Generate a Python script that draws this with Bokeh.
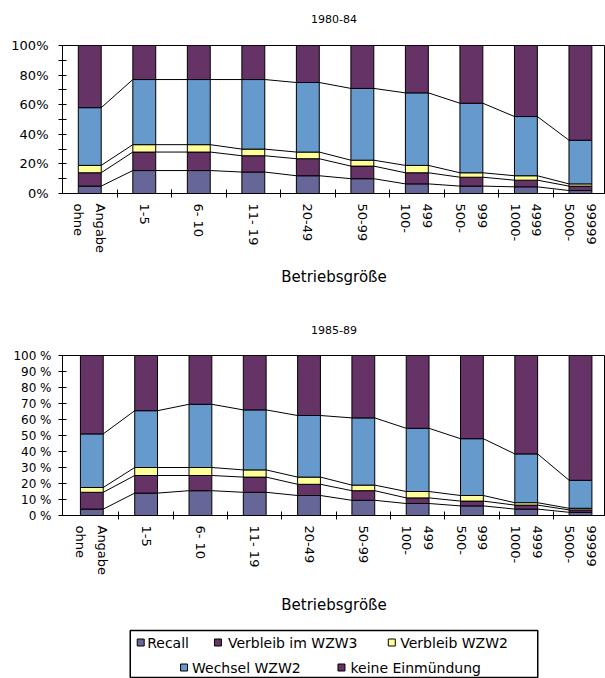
import numpy as np
from bokeh.plotting import figure
from bokeh.layouts import column
from bokeh.models import FixedTicker, Range1d, ColumnDataSource, PrintfTickFormatter, Title
from bokeh.core.properties import value
from bokeh.embed import file_html
from bokeh.resources import INLINE

# ---------------- data ----------------
categories = ["ohne\nAngabe", "1-5", "6- 10", "11- 19", "20-49", "50-99",
              "100-\n499", "500-\n999", "1000-\n4999", "5000-\n99999"]
series_names = ["Recall", "Verbleib im WZW3", "Verbleib WZW2", "Wechsel WZW2", "keine Einmündung"]
colors = ["#666699", "#663366", "#FFFF99", "#6699CC", "#663366"]

# 1980-84 (shares in %)
recall_8084 = [5, 15.5, 15.5, 14.5, 12, 10, 6.5, 5, 4.5, 2]
wzw3_8084 = [9, 12.5, 12.5, 11, 11.5, 8.5, 7.5, 6, 4.5, 3]
verbleib2_8084 = [5, 5, 5, 4.5, 4.5, 4, 5, 3, 3, 1.5]
wechsel2_8084 = [39, 44, 44, 47, 47, 48.5, 49, 47, 40, 29.5]
keine_8084 = [42, 23, 23, 23, 25, 29, 32, 39, 48, 64]

# 1985-89 (shares in %)
recall_8589 = [4, 14, 15.5, 14.5, 12.5, 9.5, 7.5, 6, 4, 2]
wzw3_8589 = [10.5, 11, 9.5, 9.5, 7, 6, 3.5, 3, 2.5, 1.5]
verbleib2_8589 = [3, 5, 5, 4.5, 4.5, 3.5, 4, 3.5, 1.5, 1]
wechsel2_8589 = [33.5, 35.5, 39.5, 37.5, 38.5, 42, 39.5, 35.5, 30.5, 17.5]
keine_8589 = [49, 34.5, 30.5, 34, 37.5, 39, 45.5, 52, 61.5, 78]

x_title = "Betriebsgröße"
FONT = "DejaVu Sans"
BAR_W = 0.42


def make_chart(title, series, yticks, yminor, yfmt, height, left, top, bottom,
               xstart, spacer_standoff, ylabel_size, ylabel_standoff, xlabel_standoff):
    p = figure(width=605, height=height, output_backend="svg", toolbar_location=None,
               title=None,
               x_range=Range1d(xstart, 9.46), y_range=Range1d(0, 100),
               min_border_left=left, min_border_right=0,
               min_border_top=top, min_border_bottom=bottom,
               background_fill_color="white", border_fill_color="white")
    xs = list(range(len(categories)))
    data = {"x": xs}
    for name, vals in zip(series_names, series):
        data[name] = vals
    src = ColumnDataSource(data)
    p.vbar_stack(series_names, x="x", width=BAR_W, source=src,
                 fill_color=colors, line_color="black", line_width=1)

    # series lines between bars (Excel style)
    cum = np.cumsum(np.array(series[:4], dtype=float), axis=0)
    x0, y0, x1, y1 = [], [], [], []
    for k in range(cum.shape[0]):
        for i in range(len(xs) - 1):
            x0.append(xs[i] + BAR_W / 2)
            x1.append(xs[i + 1] - BAR_W / 2)
            y0.append(cum[k][i])
            y1.append(cum[k][i + 1])
    p.segment(x0=x0, y0=y0, x1=x1, y1=y1, line_color="black", line_width=1)

    # spacer (closest to the frame), then the visible title above it
    p.add_layout(Title(text=" ", text_font=FONT, text_font_size="11px",
                       standoff=spacer_standoff), "above")
    p.add_layout(Title(text=title, align="center", text_font=FONT,
                       text_font_size="11px", text_font_style="normal",
                       text_color="black", standoff=10), "above")

    p.xgrid.visible = False
    p.ygrid.visible = False
    p.outline_line_color = "black"
    p.outline_line_width = 1

    xa = p.xaxis[0]
    xa.ticker = FixedTicker(ticks=xs, minor_ticks=[i + 0.5 for i in xs])
    # rotated multi-line labels: Bokeh stacks the first line on the right,
    # so the lines are given in reverse order to read "ohne" left of "Angabe"
    xa.major_label_overrides = {i: "\n".join(reversed(c.split("\n")))
                                for i, c in zip(xs, categories)}
    xa.major_label_orientation = "vertical"
    xa.major_tick_line_color = None
    xa.major_tick_out = 0
    xa.major_tick_in = 0
    xa.minor_tick_in = 4
    xa.minor_tick_out = 4
    xa.minor_tick_line_color = "black"
    xa.major_label_standoff = 6
    xa.major_label_text_font = FONT
    xa.major_label_text_font_size = "13px"
    xa.major_label_text_color = "black"
    xa.major_label_text_line_height = 1.45
    xa.axis_label = x_title
    xa.axis_label_text_font = FONT
    xa.axis_label_text_font_size = "15px"
    xa.axis_label_text_font_style = "normal"
    xa.axis_label_text_color = "black"
    xa.axis_label_standoff = xlabel_standoff
    xa.axis_line_color = "black"

    ya = p.yaxis[0]
    ya.ticker = FixedTicker(ticks=yticks, minor_ticks=yminor)
    ya.formatter = PrintfTickFormatter(format=yfmt)
    ya.major_tick_in = 4
    ya.major_tick_out = 4
    ya.minor_tick_in = 4
    ya.minor_tick_out = 4
    ya.major_tick_line_color = "black"
    ya.minor_tick_line_color = "black"
    ya.major_label_text_font = FONT
    ya.major_label_text_font_size = ylabel_size
    ya.major_label_text_color = "black"
    ya.major_label_standoff = ylabel_standoff
    ya.axis_line_color = "black"
    return p


p1 = make_chart("1980-84",
                [recall_8084, wzw3_8084, verbleib2_8084, wechsel2_8084, keine_8084],
                [0, 20, 40, 60, 80, 100], [10, 30, 50, 70, 90], "%d%%",
                height=305, left=62, top=45, bottom=112, xstart=-0.5,
                spacer_standoff=3, ylabel_size="13px", ylabel_standoff=10,
                xlabel_standoff=12)
p2 = make_chart("1985-89",
                [recall_8589, wzw3_8589, verbleib2_8589, wechsel2_8589, keine_8589],
                [0, 10, 20, 30, 40, 50, 60, 70, 80, 90, 100], [], "%d %%",
                height=320, left=60, top=50, bottom=110, xstart=-0.54,
                spacer_standoff=2, ylabel_size="12px", ylabel_standoff=7,
                xlabel_standoff=18)

# ---------------- legend panel (data coords = screen pixels) ----------------
leg = figure(width=605, height=53, output_backend="svg", toolbar_location=None,
             x_range=Range1d(60, 605), y_range=Range1d(53, 0),
             min_border_left=60, min_border_right=0, min_border_top=0, min_border_bottom=0,
             background_fill_color="white", border_fill_color="white")
leg.axis.visible = False
leg.grid.visible = False
leg.outline_line_color = None
leg.quad(left=[128], right=[537], top=[5], bottom=[52], fill_color="white",
         line_color="black", line_width=1.5)
sw_x = [138.5, 216, 390.5, 182, 340]
sw_y = [17, 17, 17, 42, 42]
tx_x = [145, 226, 399, 190, 349]
leg.rect(x=sw_x, y=sw_y, width=7, height=7, fill_color=colors,
         line_color="black", line_width=1)
leg.text(x=tx_x, y=sw_y, text=series_names, text_font=value(FONT),
         text_font_size="14px", text_baseline="middle", text_align="left",
         text_color="black")

layout = column(p1, p2, leg, spacing=0)
open("out.html", "w").write(file_html(layout, INLINE))
